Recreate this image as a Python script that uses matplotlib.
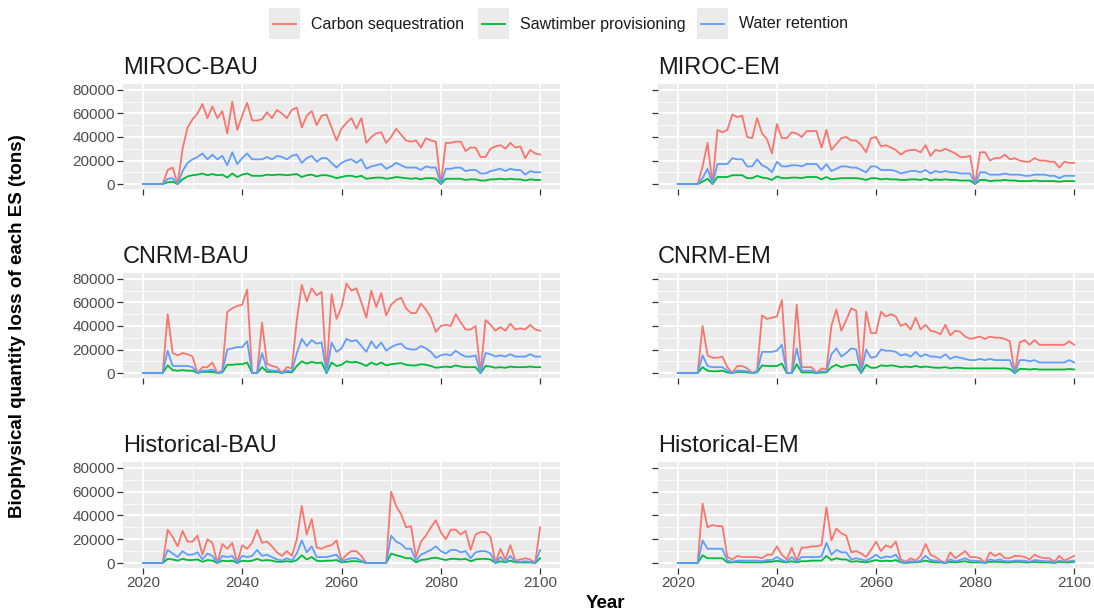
import matplotlib

matplotlib.use("Agg")
import matplotlib.pyplot as plt
import numpy as np
from matplotlib.lines import Line2D
from matplotlib.patches import Rectangle

# annual losses, in thousand tons, 2020-2100
years = list(range(2020, 2101))

miroc_bau_carbon = [
    0, 0, 0, 0, 0, 12, 14, 0, 30, 48,
    55, 60, 68, 56, 66, 56, 62, 43, 70, 46,
    58, 69, 54, 54, 55, 61, 56, 63, 60, 56,
    63, 65, 48, 58, 62, 50, 58, 59, 48, 37,
    47, 52, 56, 47, 56, 35, 40, 43, 44, 35,
    40, 47, 42, 37, 36, 37, 31, 39, 37, 36,
    0, 35, 35, 36, 36, 28, 31, 31, 23, 23,
    30, 32, 33, 30, 35, 31, 32, 22, 29, 26,
    25]
miroc_bau_sawtimber = [
    0, 0, 0, 0, 0, 1.5, 2, 0, 4, 6.5,
    7.5, 8, 9, 7.5, 8.5, 7.5, 8, 5.5, 9, 6,
    8, 9, 7, 7, 7, 8, 7.5, 8, 8, 7.5,
    8, 8.5, 6, 7.5, 8, 6.5, 7.5, 7.5, 6.5, 5,
    6, 7, 7, 6, 7, 4.5, 5, 5.5, 5.5, 4.5,
    5, 6, 5.5, 5, 4.5, 5, 4, 5, 5, 4.5,
    0, 4.5, 4.5, 4.5, 4.5, 3.5, 4, 4, 3, 3,
    4, 4, 4.5, 4, 4.5, 4, 4, 3, 4, 3.5,
    3.5]
miroc_bau_water = [
    0, 0, 0, 0, 0, 4.5, 5, 0, 11, 18,
    21, 23, 26, 21, 25, 21, 24, 16, 27, 17,
    22, 26, 21, 21, 21, 23, 21, 24, 23, 21,
    24, 25, 18, 22, 24, 19, 22, 22, 18, 14,
    18, 20, 21, 18, 21, 13, 15, 16, 17, 13,
    15, 18, 16, 14, 14, 14, 12, 15, 14, 14,
    0, 13, 13, 14, 14, 11, 12, 12, 9, 9,
    11, 12, 13, 11, 13, 12, 12, 8, 11, 10,
    10]

miroc_em_carbon = [
    0, 0, 0, 0, 0, 15, 35, 0, 46, 44,
    46, 59, 57, 58, 40, 39, 56, 43, 38, 26,
    51, 39, 39, 44, 43, 40, 45, 45, 45, 31,
    46, 29, 34, 39, 40, 37, 37, 33, 27, 39,
    40, 32, 33, 31, 29, 25, 28, 29, 29, 27,
    33, 24, 29, 28, 30, 28, 26, 23, 23, 24,
    0, 27, 27, 20, 22, 22, 25, 21, 22, 20,
    19, 19, 22, 20, 20, 19, 19, 14, 19, 18,
    18]
miroc_em_sawtimber = [
    0, 0, 0, 0, 0, 2, 4.5, 0, 6, 6,
    6, 7.5, 7.5, 7.5, 5, 5, 7, 5.5, 5, 3.5,
    6.5, 5, 5, 5.5, 5.5, 5, 6, 6, 6, 4,
    6, 4, 4.5, 5, 5, 5, 5, 4.5, 3.5, 5,
    5, 4, 4.5, 4, 4, 3.5, 3.5, 4, 4, 3.5,
    4.5, 3, 4, 3.5, 4, 3.5, 3.5, 3, 3, 3,
    0, 3.5, 3.5, 2.5, 3, 3, 3.5, 3, 3, 2.5,
    2.5, 2.5, 3, 2.5, 2.5, 2.5, 2.5, 2, 2.5, 2.5,
    2.5]
miroc_em_water = [
    0, 0, 0, 0, 0, 5, 13, 0, 17, 17,
    17, 22, 21, 21, 15, 15, 21, 16, 14, 10,
    19, 15, 15, 16, 16, 15, 17, 17, 17, 12,
    17, 11, 13, 15, 15, 14, 14, 12, 10, 15,
    15, 12, 12, 12, 11, 9, 10, 11, 11, 10,
    12, 9, 11, 10, 11, 10, 10, 9, 9, 9,
    0, 10, 10, 8, 8, 8, 9, 8, 8, 8,
    7, 7, 8, 8, 8, 7, 7, 5, 7, 7,
    7]

cnrm_bau_carbon = [
    0, 0, 0, 0, 0, 50, 17, 15, 17, 16,
    14, 0, 5, 5, 9, 0, 2, 52, 55, 57,
    58, 71, 0, 0, 43, 8, 6, 5, 0, 5,
    4, 45, 75, 61, 72, 66, 69, 0, 67, 46,
    56, 76, 70, 72, 60, 47, 70, 56, 68, 49,
    58, 62, 64, 55, 51, 51, 59, 54, 47, 35,
    40, 41, 40, 50, 43, 37, 37, 40, 0, 45,
    41, 36, 39, 36, 42, 37, 38, 37, 41, 37,
    36]
cnrm_bau_sawtimber = [
    0, 0, 0, 0, 0, 6.5, 2.5, 2, 2.5, 2,
    2, 0, 1, 1, 1, 0, 0.5, 7, 7, 7.5,
    7.5, 9, 0, 0, 5, 1, 1, 1, 0, 1,
    0.5, 6, 10, 8, 9.5, 8.5, 9, 0, 9, 6,
    7, 10, 9, 9.5, 8, 6, 9, 7, 9, 6.5,
    7.5, 8, 8.5, 7, 6.5, 6.5, 7.5, 7, 6, 4.5,
    5, 5.5, 5, 6.5, 5.5, 5, 5, 5, 0, 6,
    5.5, 4.5, 5, 4.5, 5.5, 5, 5, 5, 5.5, 5,
    5]
cnrm_bau_water = [
    0, 0, 0, 0, 0, 19, 6, 6, 6, 6,
    5, 0, 2, 2, 3, 0, 1, 20, 21, 22,
    22, 27, 0, 0, 17, 3, 2, 2, 0, 2,
    1.5, 17, 29, 23, 28, 25, 26, 0, 26, 18,
    21, 29, 27, 28, 23, 18, 27, 21, 26, 19,
    22, 24, 25, 21, 20, 20, 23, 21, 18, 13,
    15, 16, 15, 19, 16, 14, 14, 15, 0, 17,
    16, 14, 15, 14, 16, 14, 14, 14, 16, 14,
    14]

cnrm_em_carbon = [
    0, 0, 0, 0, 0, 40, 15, 13, 13, 14,
    5, 0, 6, 6, 4, 0, 2, 49, 46, 47,
    48, 62, 0, 0, 58, 5, 5, 5, 0, 4,
    3, 40, 54, 36, 45, 55, 53, 0, 52, 34,
    34, 52, 48, 50, 48, 40, 42, 37, 47, 37,
    41, 36, 35, 33, 41, 32, 36, 35, 31, 29,
    30, 31, 29, 31, 30, 30, 29, 27, 0, 26,
    28, 24, 28, 24, 24, 24, 24, 24, 24, 27,
    24]
cnrm_em_sawtimber = [
    0, 0, 0, 0, 0, 5, 2, 1.5, 1.5, 2,
    0.5, 0, 1, 1, 0.5, 0, 0.5, 6.5, 6, 6,
    6, 8, 0, 0, 7.5, 0.5, 0.5, 0.5, 0, 0.5,
    0.5, 5, 7, 5, 6, 7, 7, 0, 7, 4.5,
    4.5, 6.5, 6, 6.5, 6, 5, 5.5, 5, 6, 5,
    5.5, 5, 4.5, 4.5, 5, 4, 4.5, 4.5, 4, 4,
    4, 4, 4, 4, 4, 4, 4, 3.5, 0, 3.5,
    3.5, 3, 3.5, 3, 3, 3, 3, 3, 3, 3.5,
    3]
cnrm_em_water = [
    0, 0, 0, 0, 0, 15, 6, 5, 5, 5,
    2, 0, 2, 2, 1.5, 0, 1, 18, 18, 18,
    19, 24, 0, 0, 21, 2, 2, 2, 0, 1.5,
    1, 16, 21, 14, 17, 21, 20, 0, 20, 13,
    14, 20, 19, 19, 18, 15, 16, 14, 18, 14,
    16, 14, 14, 13, 16, 12, 14, 13, 12, 11,
    11, 12, 11, 12, 11, 11, 11, 11, 0, 11,
    11, 10, 11, 9, 9, 9, 9, 9, 9, 11,
    9]

hist_bau_carbon = [
    0, 0, 0, 0, 0, 28, 22, 14, 27, 18,
    18, 23, 7, 20, 17, 0, 16, 12, 17, 0,
    15, 12, 17, 28, 17, 18, 14, 9, 6, 10,
    6, 20, 48, 24, 37, 13, 12, 14, 15, 19,
    2, 7, 10, 10, 6, 0, 0, 0, 0, 0,
    60, 48, 41, 30, 31, 5, 18, 23, 30, 36,
    26, 20, 28, 28, 24, 27, 11, 24, 26, 26,
    22, 0, 12, 3, 15, 2, 3, 4, 3, 0,
    30]
hist_bau_sawtimber = [
    0, 0, 0, 0, 0, 3.5, 3, 2, 3.5, 2.5,
    2.5, 3, 1, 2.5, 2, 0, 2, 1.5, 2, 0,
    2, 1.5, 2, 3.5, 2, 2.5, 2, 1, 1, 1.5,
    1, 2.5, 6.5, 3, 5, 2, 1.5, 2, 2, 2.5,
    0.5, 1, 1.5, 1.5, 1, 0, 0, 0, 0, 0,
    8, 6.5, 5.5, 4, 4, 0.5, 2.5, 3, 4, 4.5,
    3.5, 2.5, 3.5, 3.5, 3, 3.5, 1.5, 3, 3.5, 3.5,
    3, 0, 1.5, 0.5, 2, 0.5, 0.5, 0.5, 0.5, 0,
    4]
hist_bau_water = [
    0, 0, 0, 0, 0, 11, 8, 5, 10, 7,
    7, 9, 3, 8, 6, 0, 6, 5, 6, 0,
    6, 5, 6, 11, 6, 7, 5, 3, 2, 4,
    2, 8, 19, 9, 14, 5, 5, 5, 6, 7,
    1, 3, 4, 4, 2, 0, 0, 0, 0, 0,
    23, 18, 16, 12, 12, 2, 7, 9, 11, 14,
    10, 8, 11, 11, 9, 10, 4, 9, 10, 10,
    8, 0, 5, 1, 6, 1, 1, 1.5, 1, 0,
    11]

hist_em_carbon = [
    0, 0, 0, 0, 0, 50, 30, 32, 31, 31,
    5, 3, 6, 5, 5, 5, 5, 4, 7, 7,
    14, 7, 3, 13, 2, 13, 13, 14, 14, 15,
    47, 19, 29, 25, 23, 9, 10, 8, 5, 11,
    18, 10, 15, 13, 18, 3, 1, 4, 2, 6,
    16, 7, 5, 2, 0, 9, 4, 7, 10, 5,
    5, 4, 0, 9, 6, 8, 4, 4, 6, 6,
    5, 3, 7, 5, 4, 4, 1, 6, 2, 4,
    6]
hist_em_sawtimber = [
    0, 0, 0, 0, 0, 6.5, 4, 4, 4, 4,
    0.5, 0.5, 1, 0.5, 0.5, 0.5, 0.5, 0.5, 1, 1,
    2, 1, 0.5, 1.5, 0.5, 1.5, 1.5, 2, 2, 2,
    6, 2.5, 4, 3, 3, 1, 1.5, 1, 0.5, 1.5,
    2.5, 1.5, 2, 1.5, 2.5, 0.5, 0, 0.5, 0.5, 1,
    2, 1, 0.5, 0.5, 0, 1, 0.5, 1, 1.5, 0.5,
    0.5, 0.5, 0, 1, 1, 1, 0.5, 0.5, 1, 1,
    0.5, 0.5, 1, 0.5, 0.5, 0.5, 0, 1, 0.5, 0.5,
    1]
hist_em_water = [
    0, 0, 0, 0, 0, 19, 12, 12, 12, 12,
    2, 1, 2, 2, 2, 2, 2, 1.5, 2.5, 2.5,
    5, 2.5, 1, 5, 1, 5, 5, 5, 5, 5.5,
    17, 7, 11, 9, 9, 3, 4, 3, 2, 4,
    7, 4, 5.5, 5, 7, 1, 0.5, 1.5, 1, 2,
    6, 2.5, 2, 1, 0, 3, 1.5, 2.5, 4, 2,
    2, 1.5, 0, 3, 2, 3, 1.5, 1.5, 2, 2,
    2, 1, 2.5, 2, 1.5, 1.5, 0.5, 2, 1, 1.5,
    2]

scenario_names = ["MIROC-BAU", "MIROC-EM", "CNRM-BAU", "CNRM-EM",
                  "Historical-BAU", "Historical-EM"]
carbon = [miroc_bau_carbon, miroc_em_carbon, cnrm_bau_carbon,
          cnrm_em_carbon, hist_bau_carbon, hist_em_carbon]
sawtimber = [miroc_bau_sawtimber, miroc_em_sawtimber, cnrm_bau_sawtimber,
             cnrm_em_sawtimber, hist_bau_sawtimber, hist_em_sawtimber]
water = [miroc_bau_water, miroc_em_water, cnrm_bau_water,
         cnrm_em_water, hist_bau_water, hist_em_water]

service_labels = ["Carbon sequestration", "Sawtimber provisioning", "Water retention"]
service_colors = ["#F8766D", "#00BA38", "#619CFF"]

W, H = 1094, 613
plt.rcParams["font.family"] = ["Liberation Sans", "DejaVu Sans"]

fig = plt.figure(figsize=(W / 100, H / 100), dpi=100)


def px_box(left, top, right, bottom):
    return [left / W, 1 - bottom / H, (right - left) / W, (bottom - top) / H]


col_edges = [(123, 560), (658, 1094)]
row_edges = [(84, 189), (273, 378), (462, 568)]

for i, name in enumerate(scenario_names):
    row, col = divmod(i, 2)
    left, right = col_edges[col]
    top, bottom = row_edges[row]
    ax = fig.add_axes(px_box(left, top, right, bottom))
    ax.set_facecolor("#EBEBEB")
    for spine in ax.spines.values():
        spine.set_visible(False)

    series = [carbon[i], sawtimber[i], water[i]]
    for values, color in zip(series, service_colors):
        ax.plot(years, np.array(values) * 1000, color=color, linewidth=1.3,
                solid_joinstyle="round", zorder=3)

    ax.set_xlim(2016, 2104)
    ax.set_ylim(-4200, 85000)
    ax.set_xticks([2020, 2040, 2060, 2080, 2100])
    ax.set_xticks([2030, 2050, 2070, 2090], minor=True)
    ax.set_yticks([0, 20000, 40000, 60000, 80000])
    ax.set_yticks([10000, 30000, 50000, 70000], minor=True)
    ax.grid(which="major", color="white", linewidth=1.3)
    ax.grid(which="minor", color="white", linewidth=0.6)
    ax.set_axisbelow(True)
    ax.tick_params(which="major", length=4, width=0.9, color="#333333",
                   labelsize=11, labelcolor="#4D4D4D", pad=2)
    ax.tick_params(which="minor", length=0)
    if col == 1:
        ax.tick_params(axis="y", labelleft=False)
    if row < 2:
        ax.tick_params(axis="x", labelbottom=False)
    ax.set_title(name, loc="left", fontsize=17, pad=7, color="#1A1A1A")

fig.text(18 / W, 1 - 326 / H, "Biophysical quantity loss of each ES (tons)",
         rotation=90, ha="center", va="center", fontsize=13.5, fontweight="bold")
fig.text(605 / W, 1 - 603 / H, "Year", ha="center", va="center",
         fontsize=13.5, fontweight="bold")

# legend across the top: gray key boxes with a coloured line and a label
key_lefts = [269, 478, 697]
for label, color, kx in zip(service_labels, service_colors, key_lefts):
    fig.add_artist(Rectangle((kx / W, 1 - 39 / H), 31 / W, 31 / H,
                             transform=fig.transFigure, facecolor="#EBEBEB",
                             edgecolor="none"))
    fig.add_artist(Line2D([(kx + 4) / W, (kx + 27) / W], [1 - 24 / H, 1 - 24 / H],
                          transform=fig.transFigure, color=color, linewidth=1.3))
    fig.text((kx + 42) / W, 1 - 24 / H, label, ha="left", va="center",
             fontsize=11.5, color="#1A1A1A")

fig.savefig("out.png", dpi=100)
plt.close(fig)
